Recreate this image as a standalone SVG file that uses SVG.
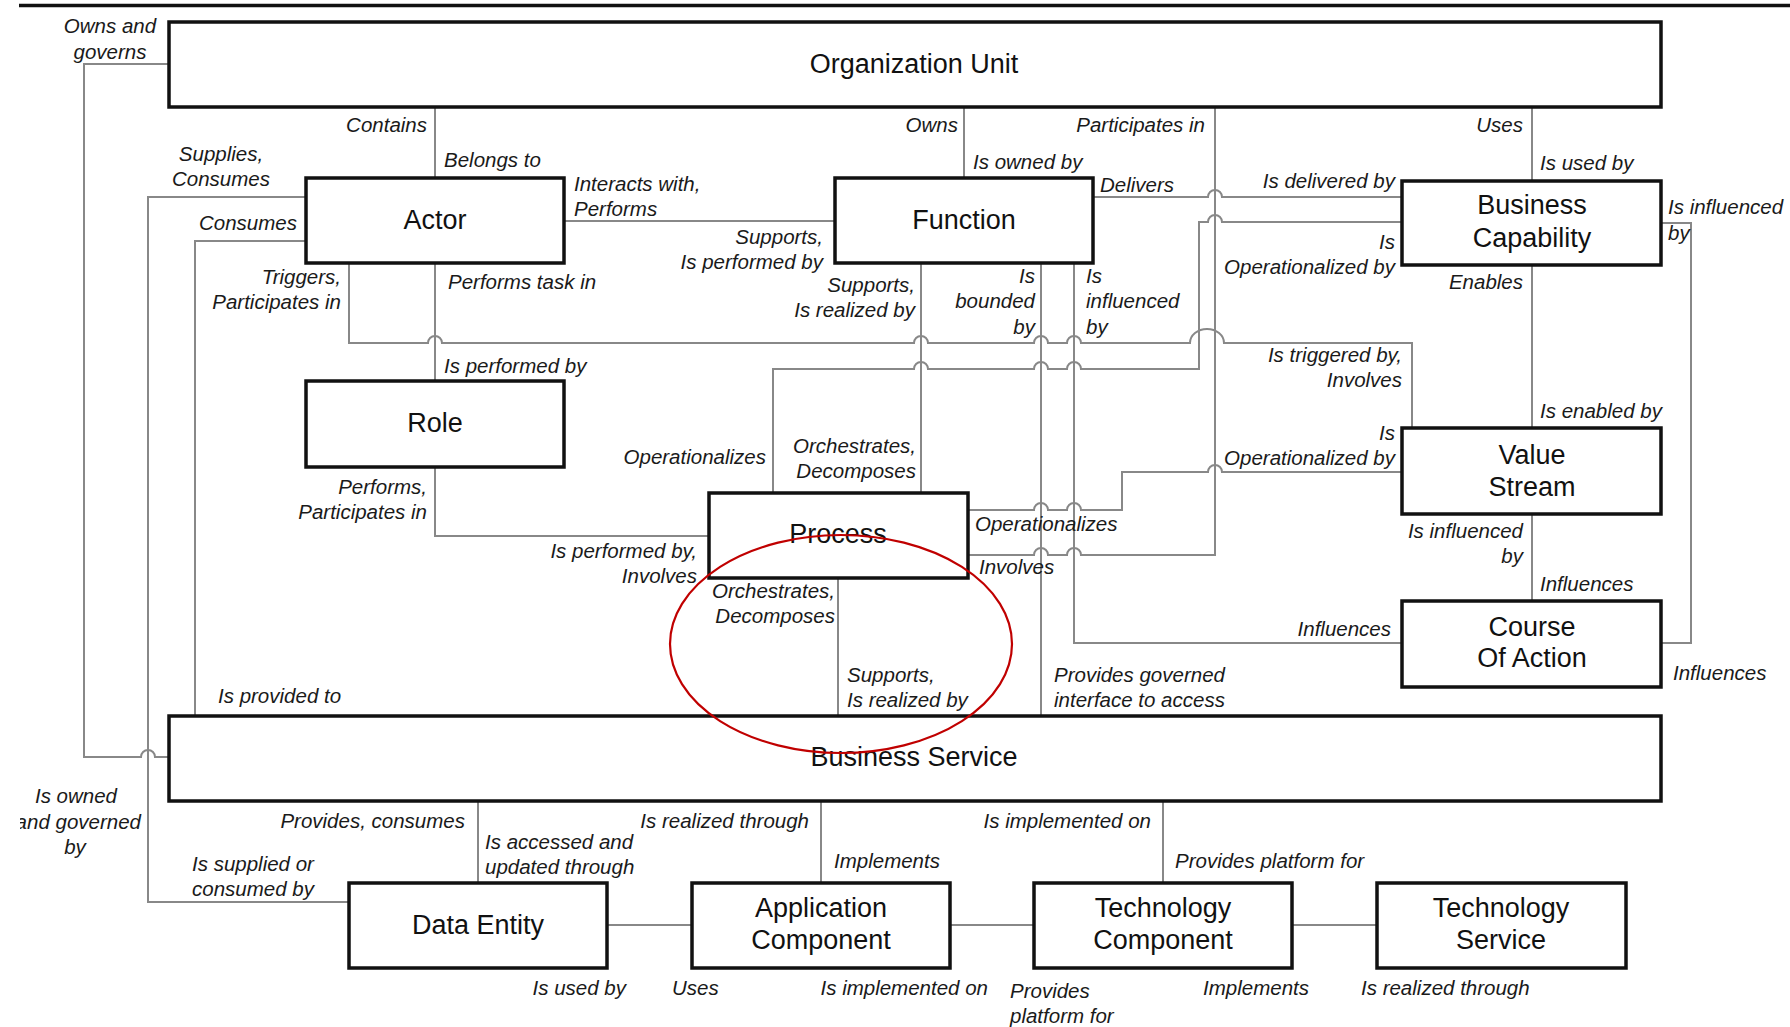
<svg xmlns="http://www.w3.org/2000/svg" width="1790" height="1027" viewBox="0 0 1790 1027">
  <style>
    .box { fill: #ffffff; stroke: #111111; stroke-width: 3.5; }
    .name { font-family: "Liberation Sans", Arial, sans-serif; font-size: 27px; fill: #111111; text-anchor: middle; }
    .lbl { font-family: "Liberation Sans", Arial, sans-serif; font-size: 20.5px; font-style: italic; fill: #1a1a1a; }
    .e { text-anchor: end; }
    .m { text-anchor: middle; }
    .wire { fill: none; stroke: #888888; stroke-width: 2; }
  </style>
  <defs>
    <clipPath id="leftEdge">
      <rect x="20" y="0" width="1770" height="1027"/>
    </clipPath>
  </defs>

  <rect width="1790" height="1027" fill="#ffffff"/>
  <line x1="19" y1="5.5" x2="1790" y2="5.5" stroke="#111111" stroke-width="3.5"/>

  <!-- connectors -->
  <g id="connectors">
    <path class="wire" d="M169,64 H84 V757 H141 a7,7 0 0 1 14,0 H169"/>
    <path class="wire" d="M306,197 H148 V902 H349"/>
    <path class="wire" d="M306,241 H195 V716"/>
    <path class="wire" d="M349,263 V343 H428 a7,7 0 0 1 14,0 H914 a7,7 0 0 1 14,0 H1034 a7,7 0 0 1 14,0 H1067 a7,7 0 0 1 14,0 H1190 a17,14 0 0 1 34,0 H1412 V428"/>
    <path class="wire" d="M435,107 V178"/>
    <path class="wire" d="M435,263 V381"/>
    <path class="wire" d="M564,221 H835"/>
    <path class="wire" d="M964,107 V178"/>
    <path class="wire" d="M968,555 H1034 a7,7 0 0 1 14,0 H1067 a7,7 0 0 1 14,0 H1215 V107"/>
    <path class="wire" d="M1093,197 H1208 a7,7 0 0 1 14,0 H1402"/>
    <path class="wire" d="M773,493 V369 H914 a7,7 0 0 1 14,0 H1034 a7,7 0 0 1 14,0 H1067 a7,7 0 0 1 14,0 H1199 V222 H1208 a7,7 0 0 1 14,0 H1402"/>
    <path class="wire" d="M921,263 V493"/>
    <path class="wire" d="M838,578 V716"/>
    <path class="wire" d="M1041,263 V716"/>
    <path class="wire" d="M1074,263 V643 H1402"/>
    <path class="wire" d="M968,510 H1034 a7,7 0 0 1 14,0 H1067 a7,7 0 0 1 14,0 H1122 V472 H1208 a7,7 0 0 1 14,0 H1402"/>
    <path class="wire" d="M1532,107 V182"/>
    <path class="wire" d="M1532,265 V428"/>
    <path class="wire" d="M1532,514 V601"/>
    <path class="wire" d="M1661,223 H1691 V643 H1661"/>
    <path class="wire" d="M435,467 V536 H709"/>
    <path class="wire" d="M478,800 V883"/>
    <path class="wire" d="M821,800 V883"/>
    <path class="wire" d="M1163,800 V883"/>
    <path class="wire" d="M607,925 H692"/>
    <path class="wire" d="M950,925 H1034"/>
    <path class="wire" d="M1292,925 H1377"/>
  </g>

  <!-- relationship labels -->
  <g id="labels" class="lbl">
    <text class="lbl m" x="110" y="33">Owns and</text>
    <text class="lbl m" x="110" y="59">governs</text>
    <g clip-path="url(#leftEdge)">
      <text class="lbl m" x="76" y="803">Is owned</text>
      <text class="lbl e" x="141" y="829">and governed</text>
      <text class="lbl m" x="75" y="854">by</text>
    </g>
    <text class="lbl e" x="427" y="132">Contains</text>
    <text class="lbl" x="444" y="167">Belongs to</text>
    <text class="lbl m" x="221" y="161">Supplies,</text>
    <text class="lbl m" x="221" y="186">Consumes</text>
    <text class="lbl e" x="297" y="230">Consumes</text>
    <text class="lbl" x="574" y="191">Interacts with,</text>
    <text class="lbl" x="574" y="216">Performs</text>
    <text class="lbl e" x="823" y="244">Supports,</text>
    <text class="lbl e" x="823" y="269">Is performed by</text>
    <text class="lbl e" x="341" y="284">Triggers,</text>
    <text class="lbl e" x="341" y="309">Participates in</text>
    <text class="lbl" x="448" y="289">Performs task in</text>
    <text class="lbl e" x="915" y="292">Supports,</text>
    <text class="lbl e" x="915" y="317">Is realized by</text>
    <text class="lbl e" x="1035" y="283">Is</text>
    <text class="lbl e" x="1035" y="308">bounded</text>
    <text class="lbl e" x="1035" y="334">by</text>
    <text class="lbl" x="1086" y="283">Is</text>
    <text class="lbl" x="1086" y="308">influenced</text>
    <text class="lbl" x="1086" y="334">by</text>
    <text class="lbl e" x="958" y="132">Owns</text>
    <text class="lbl" x="973" y="169">Is owned by</text>
    <text class="lbl e" x="1205" y="132">Participates in</text>
    <text class="lbl" x="1100" y="192">Delivers</text>
    <text class="lbl e" x="1395" y="188">Is delivered by</text>
    <text class="lbl e" x="1395" y="249">Is</text>
    <text class="lbl e" x="1395" y="274">Operationalized by</text>
    <text class="lbl e" x="1523" y="132">Uses</text>
    <text class="lbl" x="1540" y="170">Is used by</text>
    <text class="lbl" x="1668" y="214">Is influenced</text>
    <text class="lbl" x="1668" y="240">by</text>
    <text class="lbl e" x="1523" y="289">Enables</text>
    <text class="lbl" x="444" y="373">Is performed by</text>
    <text class="lbl e" x="1402" y="362">Is triggered by,</text>
    <text class="lbl e" x="1402" y="387">Involves</text>
    <text class="lbl" x="1540" y="418">Is enabled by</text>
    <text class="lbl e" x="766" y="464">Operationalizes</text>
    <text class="lbl e" x="916" y="453">Orchestrates,</text>
    <text class="lbl e" x="916" y="478">Decomposes</text>
    <text class="lbl e" x="1395" y="440">Is</text>
    <text class="lbl e" x="1395" y="465">Operationalized by</text>
    <text class="lbl e" x="427" y="494">Performs,</text>
    <text class="lbl e" x="427" y="519">Participates in</text>
    <text class="lbl" x="975" y="531">Operationalizes</text>
    <text class="lbl e" x="697" y="558">Is performed by,</text>
    <text class="lbl e" x="697" y="583">Involves</text>
    <text class="lbl" x="979" y="574">Involves</text>
    <text class="lbl e" x="1523" y="538">Is influenced</text>
    <text class="lbl e" x="1523" y="563">by</text>
    <text class="lbl" x="1540" y="591">Influences</text>
    <text class="lbl e" x="835" y="598">Orchestrates,</text>
    <text class="lbl e" x="835" y="623">Decomposes</text>
    <text class="lbl e" x="1391" y="636">Influences</text>
    <text class="lbl" x="1673" y="680">Influences</text>
    <text class="lbl" x="218" y="703">Is provided to</text>
    <text class="lbl" x="847" y="682">Supports,</text>
    <text class="lbl" x="847" y="707">Is realized by</text>
    <text class="lbl" x="1054" y="682">Provides governed</text>
    <text class="lbl" x="1054" y="707">interface to access</text>
    <text class="lbl e" x="465" y="828">Provides, consumes</text>
    <text class="lbl" x="485" y="849">Is accessed and</text>
    <text class="lbl" x="485" y="874">updated through</text>
    <text class="lbl" x="192" y="871">Is supplied or</text>
    <text class="lbl" x="192" y="896">consumed by</text>
    <text class="lbl e" x="809" y="828">Is realized through</text>
    <text class="lbl" x="834" y="868">Implements</text>
    <text class="lbl e" x="1151" y="828">Is implemented on</text>
    <text class="lbl" x="1175" y="868">Provides platform for</text>
    <text class="lbl e" x="626" y="995">Is used by</text>
    <text class="lbl" x="672" y="995">Uses</text>
    <text class="lbl e" x="988" y="995">Is implemented on</text>
    <text class="lbl" x="1010" y="998">Provides</text>
    <text class="lbl" x="1010" y="1023">platform for</text>
    <text class="lbl e" x="1309" y="995">Implements</text>
    <text class="lbl" x="1361" y="995">Is realized through</text>
  </g>

  <!-- entities -->
  <g id="organization-unit">
    <rect class="box" x="169" y="22" width="1492" height="85"/>
    <text class="name" x="914" y="73">Organization Unit</text>
  </g>
  <g id="actor">
    <rect class="box" x="306" y="178" width="258" height="85"/>
    <text class="name" x="435" y="229">Actor</text>
  </g>
  <g id="function">
    <rect class="box" x="835" y="178" width="258" height="85"/>
    <text class="name" x="964" y="229">Function</text>
  </g>
  <g id="business-capability">
    <rect class="box" x="1402" y="181" width="259" height="84"/>
    <text class="name" x="1532" y="214">Business</text>
    <text class="name" x="1532" y="247">Capability</text>
  </g>
  <g id="role">
    <rect class="box" x="306" y="381" width="258" height="86"/>
    <text class="name" x="435" y="432">Role</text>
  </g>
  <g id="process">
    <rect class="box" x="709" y="493" width="259" height="85"/>
    <text class="name" x="838" y="543">Process</text>
  </g>
  <g id="value-stream">
    <rect class="box" x="1402" y="428" width="259" height="86"/>
    <text class="name" x="1532" y="464">Value</text>
    <text class="name" x="1532" y="496">Stream</text>
  </g>
  <g id="course-of-action">
    <rect class="box" x="1402" y="601" width="259" height="86"/>
    <text class="name" x="1532" y="636">Course</text>
    <text class="name" x="1532" y="667">Of Action</text>
  </g>
  <g id="business-service">
    <rect class="box" x="169" y="716" width="1492" height="85"/>
    <text class="name" x="914" y="766">Business Service</text>
  </g>
  <g id="data-entity">
    <rect class="box" x="349" y="883" width="258" height="85"/>
    <text class="name" x="478" y="934">Data Entity</text>
  </g>
  <g id="application-component">
    <rect class="box" x="692" y="883" width="258" height="85"/>
    <text class="name" x="821" y="917">Application</text>
    <text class="name" x="821" y="949">Component</text>
  </g>
  <g id="technology-component">
    <rect class="box" x="1034" y="883" width="258" height="85"/>
    <text class="name" x="1163" y="917">Technology</text>
    <text class="name" x="1163" y="949">Component</text>
  </g>
  <g id="technology-service">
    <rect class="box" x="1377" y="883" width="249" height="85"/>
    <text class="name" x="1501" y="917">Technology</text>
    <text class="name" x="1501" y="949">Service</text>
  </g>

  <!-- highlight ring -->
  <ellipse cx="841" cy="644" rx="171" ry="109" fill="none" stroke="#c00000" stroke-width="2.2"/>
</svg>
